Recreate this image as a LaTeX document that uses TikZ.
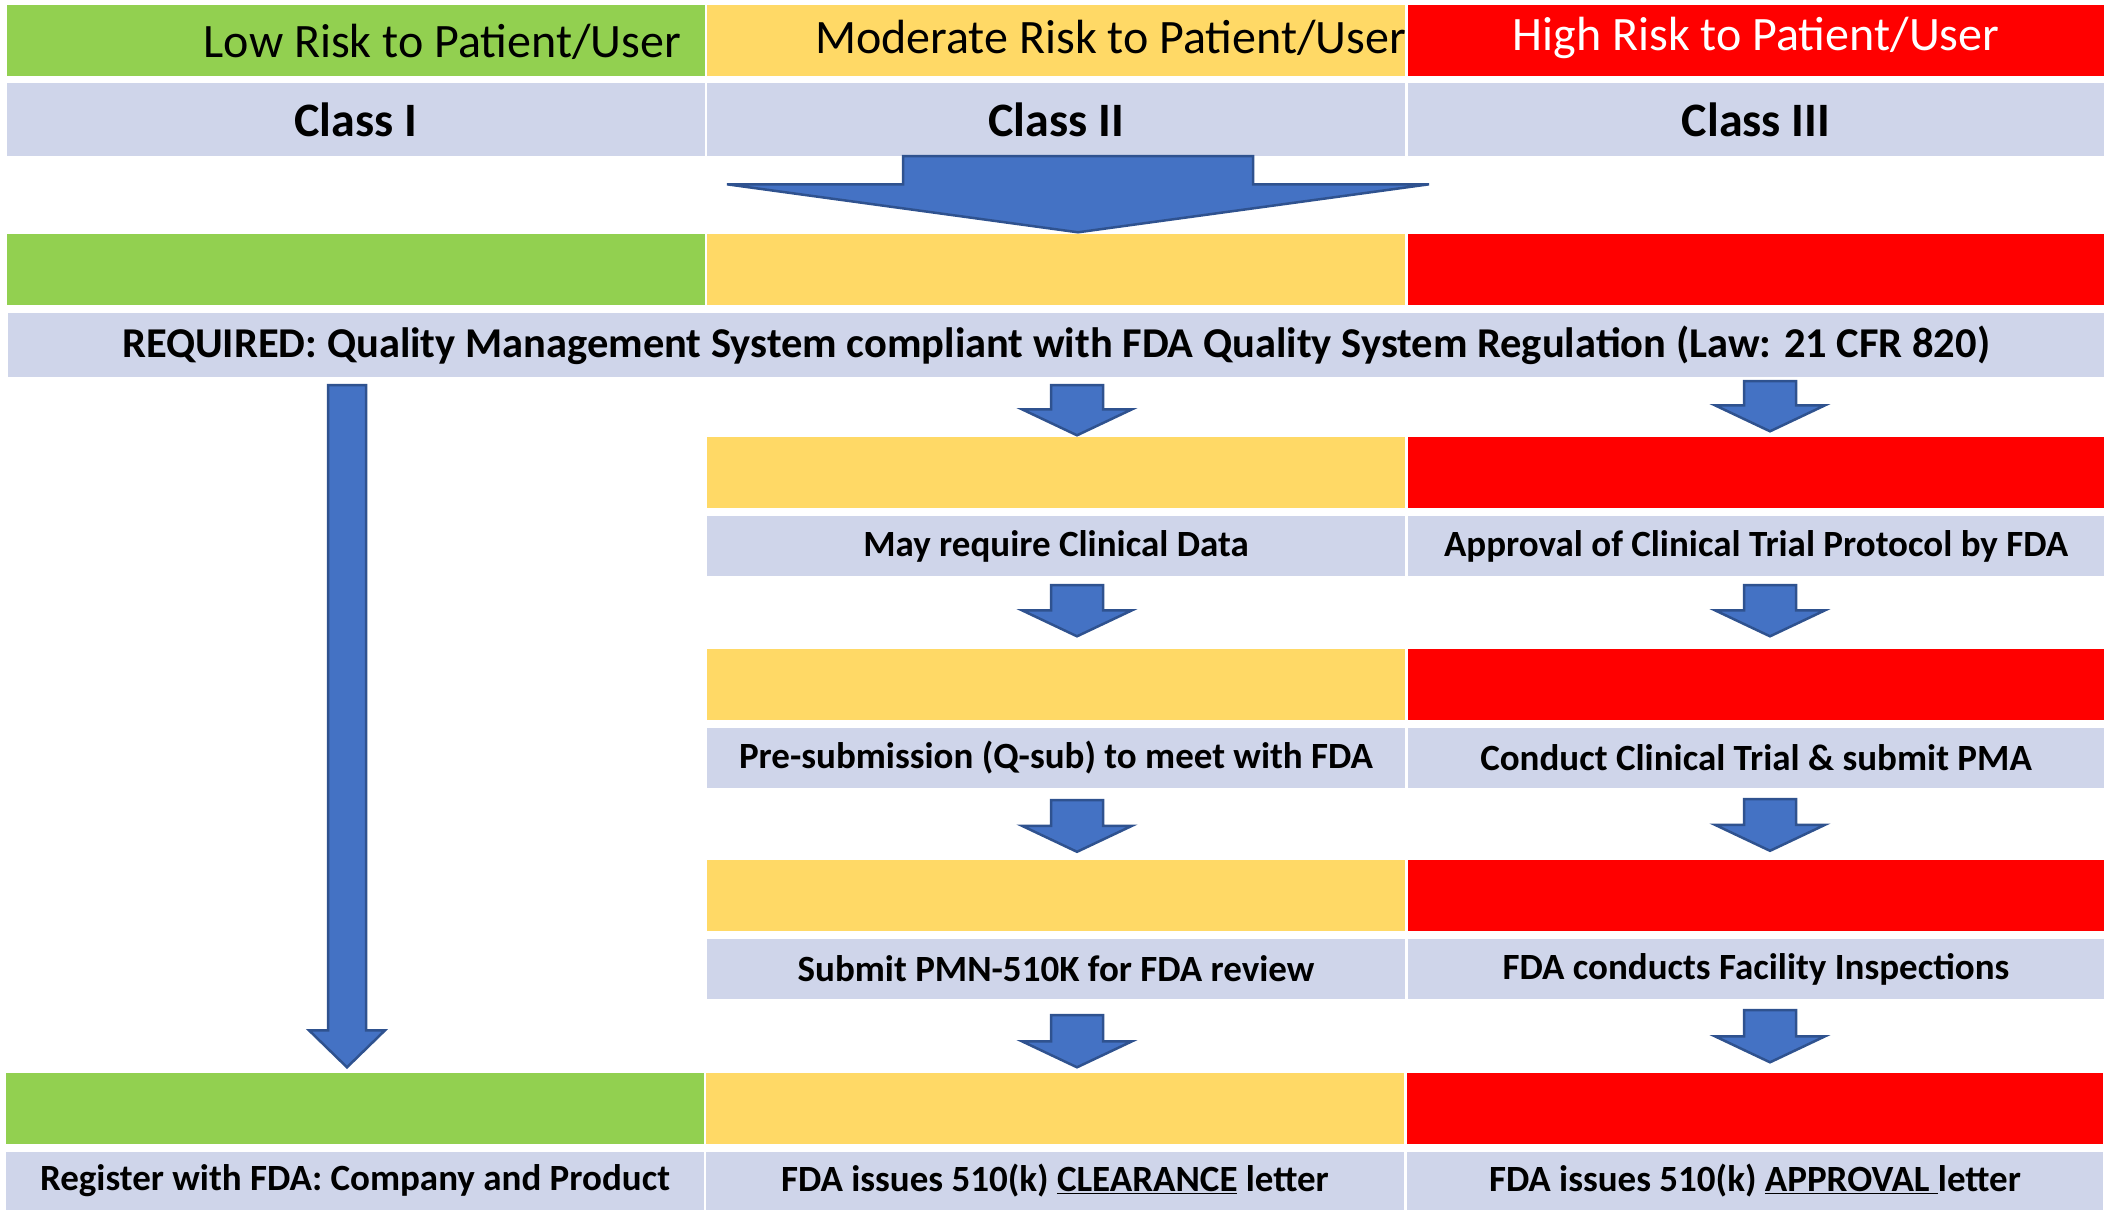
\documentclass[tikz,border=0pt]{standalone}
\usepackage{fontspec}
\setmainfont{Carlito}
\usepackage{xcolor}
\usepackage{tikz}
\usetikzlibrary{positioning,calc}
\definecolor{RiskGreen}{HTML}{92D050}
\definecolor{RiskYellow}{HTML}{FFD966}
\definecolor{RiskRed}{HTML}{FF0000}
\definecolor{CellLilac}{HTML}{CFD5EA}
\definecolor{FlowBlue}{HTML}{4472C4}
\definecolor{FlowEdge}{HTML}{2F528F}
\tikzset{
    colorbar/.style={rectangle, inner sep=0pt, minimum height=71pt},
    stepcell/.style={rectangle, fill=CellLilac, inner sep=0pt, minimum height=60pt,
        font=\bfseries\fontsize{37}{44}\selectfont},
    lowcol/.style={minimum width=698pt},
    modcol/.style={minimum width=698pt},
    highcol/.style={minimum width=696pt},
    risktext/.style={inner sep=0pt, font=\fontsize{48}{57}\selectfont},
    % block arrow drawn from a start point down to its tip
    blockarrow/.style n args={3}{
        fill=FlowBlue, draw=FlowEdge, line width=2.5pt,
        to path={let \p1=(\tikztostart), \p2=(\tikztotarget) in
            (\x1-#1,\y1) -- (\x1+#1,\y1) -- (\x1+#1,\y2+#3) -- (\x1+#2,\y2+#3)
            -- (\x1,\y2) -- (\x1-#2,\y2+#3) -- (\x1-#1,\y2+#3) -- cycle}
    }
}

\begin{document}
\begin{tikzpicture}[x=1pt, y=-1pt,
                smallarrow/.style={blockarrow={26pt}{55pt}{26pt}},
                classcell/.style={stepcell, minimum height=73pt, font=\bfseries\fontsize{48}{57}\selectfont}
            ]
                \useasboundingbox (0,0) rectangle (2104,1210);

                % --- risk headline ---
                \node[colorbar, lowcol, fill=RiskGreen] (lowrisk) at (356,40.5) {};
                \node[colorbar, modcol, fill=RiskYellow] (modrisk) at (1056,40.5) {};
                \node[colorbar, highcol, fill=RiskRed] (highrisk) at (1756,40.5) {};
                \node[risktext, anchor=base east] (lowtxt) at ([xshift=-24pt,yshift=19pt]lowrisk.south east) {Low Risk to Patient/User};
                \node[risktext, anchor=base east] (modtxt) at ([xshift=1pt,yshift=23pt]modrisk.south east) {Moderate Risk to Patient/User};
                \node[risktext, anchor=base, text=white] (hightxt) at ([yshift=26pt]highrisk.south) {High Risk to Patient/User};

                % --- device classes ---
                \node[classcell, lowcol] (classI) at (356,119.5) {Class I};
                \node[classcell, modcol] (classII) at (1056,119.5) {Class II};
                \node[classcell, highcol] (classIII) at (1756,119.5) {Class III};

                % --- common requirement ---
                \node[colorbar, lowcol, fill=RiskGreen] (lowB0) at (356,269) {};
                \node[colorbar, modcol, fill=RiskYellow] (modB0) at (1056,269) {};
                \node[colorbar, highcol, fill=RiskRed] (highB0) at (1756,269) {};
                \node[stepcell, minimum width=2096pt, minimum height=64pt, font=\bfseries\fontsize{42.5}{50}\selectfont] (req) at (1056,345)
                    {REQUIRED: Quality Management System compliant with FDA Quality System Regulation (Law: 21 CFR 820)};

                % --- step 1 ---
                \node[colorbar, modcol, fill=RiskYellow] (modB1) at (1056,472) {};
                \node[colorbar, highcol, fill=RiskRed] (highB1) at (1756,472) {};
                \node[stepcell, modcol] (modC1) at (1056,546) {May require Clinical Data};
                \node[stepcell, highcol] (highC1) at (1756,546) {Approval of Clinical Trial Protocol by FDA};

                % --- step 2 ---
                \node[colorbar, modcol, fill=RiskYellow] (modB2) at (1056,684) {};
                \node[colorbar, highcol, fill=RiskRed] (highB2) at (1756,684) {};
                \node[stepcell, modcol] (modC2) at (1056,758) {Pre-submission (Q-sub) to meet with FDA};
                \node[stepcell, highcol] (highC2) at (1756,758) {Conduct Clinical Trial \& submit PMA};

                % --- step 3 ---
                \node[colorbar, modcol, fill=RiskYellow] (modB3) at (1056,895.5) {};
                \node[colorbar, highcol, fill=RiskRed] (highB3) at (1756,895.5) {};
                \node[stepcell, modcol] (modC3) at (1056,969) {Submit PMN-510K for FDA review};
                \node[stepcell, highcol] (highC3) at (1756,969) {FDA conducts Facility Inspections};

                % --- outcome ---
                \node[colorbar, lowcol, fill=RiskGreen] (lowB4) at (355,1108) {};
                \node[colorbar, modcol, fill=RiskYellow] (modB4) at (1055,1108) {};
                \node[colorbar, highcol, fill=RiskRed] (highB4) at (1755,1108) {};
                \node[stepcell, lowcol, minimum height=58pt] (lowC4) at (355,1181) {Register with FDA: Company and Product};
                \node[stepcell, modcol, minimum height=58pt] (modC4) at (1055,1181) {FDA issues 510(k) \underline{CLEARANCE} letter};
                \node[stepcell, highcol, minimum height=58pt] (highC4) at (1755,1181) {FDA issues 510(k) \underline{APPROVAL\ }letter};

                % --- arrows ---
                \draw[blockarrow={175pt}{351pt}{48pt}] ([xshift=22pt]classII.south) to ([xshift=22pt,yshift=1pt]modB0.north);
                \draw[blockarrow={19pt}{38pt}{37pt}] ([xshift=-8pt,yshift=-8pt]req.south -| lowB4.north) to ([xshift=-8pt,yshift=5pt]lowB4.north);

                \draw[smallarrow] ([xshift=21pt,yshift=-8pt]req.south -| modB1.north) to ([xshift=21pt,yshift=1pt]modB1.north);
                \draw[smallarrow] ([xshift=21pt,yshift=-9pt]modC1.south) to ([xshift=21pt,yshift=12pt]modB2.north);
                \draw[smallarrow] ([xshift=21pt,yshift=-12pt]modC2.south) to ([xshift=21pt,yshift=8pt]modB3.north);
                \draw[smallarrow] ([xshift=21pt,yshift=-16pt]modC3.south) to ([xshift=22pt,yshift=5pt]modB4.north);

                \draw[smallarrow] ([xshift=14pt,yshift=-4pt]req.south -| highB1.north) to ([xshift=14pt,yshift=5pt]highB1.north);
                \draw[smallarrow] ([xshift=14pt,yshift=-9pt]highC1.south) to ([xshift=14pt,yshift=12pt]highB2.north);
                \draw[smallarrow] ([xshift=14pt,yshift=-11pt]highC2.south) to ([xshift=14pt,yshift=9pt]highB3.north);
                \draw[smallarrow] ([xshift=14pt,yshift=-11pt]highC3.south) to ([xshift=15pt,yshift=10pt]highB4.north);

            \end{tikzpicture}
\end{document}
